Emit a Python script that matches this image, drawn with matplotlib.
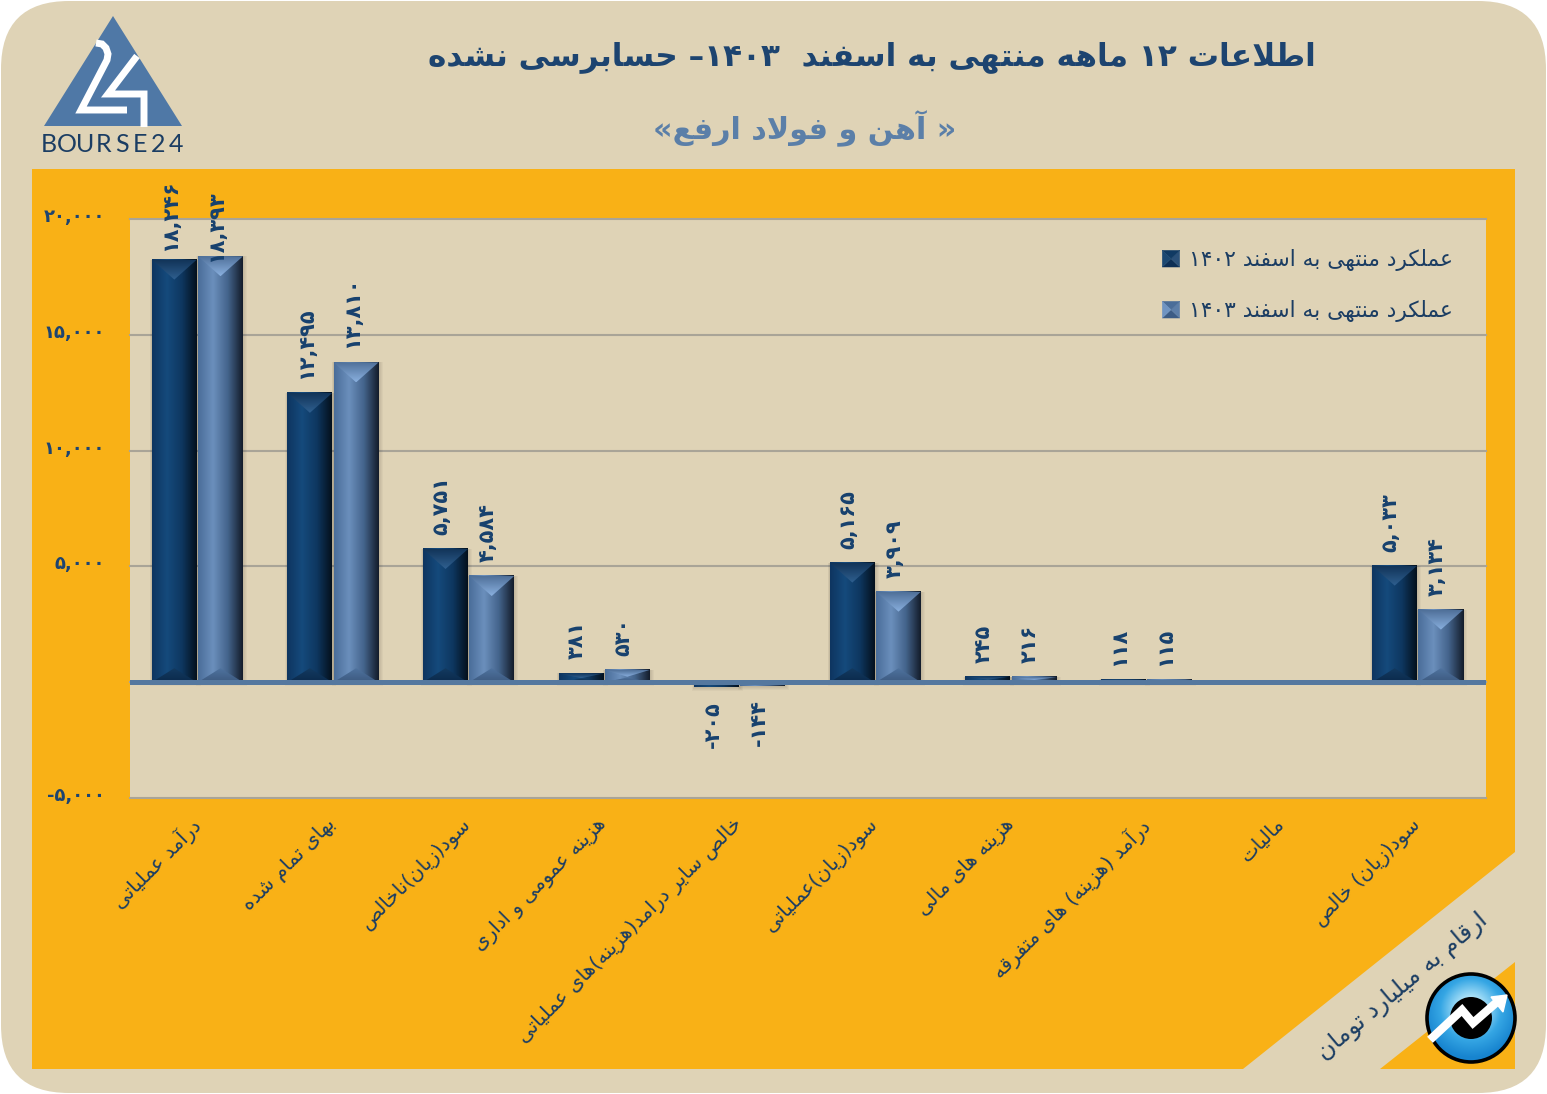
import numpy as np
import matplotlib
matplotlib.use("Agg")
from matplotlib import pyplot as plt
from matplotlib.colors import LinearSegmentedColormap
from matplotlib.legend_handler import HandlerBase
from matplotlib.patches import Circle, FancyBboxPatch, Patch, Polygon, Rectangle
from matplotlib.ticker import FuncFormatter, MultipleLocator
from matplotlib.transforms import ScaledTranslation

title = "اطلاعات ۱۲ ماهه منتهی به اسفند  ۱۴۰۳– حسابرسی نشده"
subtitle = "« آهن و فولاد ارفع»"
unit_note = "ارقام به میلیارد تومان"
categories = [
    "درآمد عملیاتی",
    "بهای تمام شده",
    "سود(زیان)ناخالص",
    "هزینه عمومی و اداری",
    "خالص سایر درامد(هزینه)های عملیاتی",
    "سود(زیان)عملیاتی",
    "هزینه های مالی",
    "درآمد (هزینه) های متفرقه",
    "مالیات",
    "سود(زیان) خالص",
]
series_1402 = [18246, 12495, 5751, 381, -205, 5165, 245, 118, 0, 5033]
series_1403 = [18393, 13810, 4584, 530, -144, 3909, 216, 115, 0, 3134]
name_1402 = "عملکرد منتهی به اسفند ۱۴۰۲"
name_1403 = "عملکرد منتهی به اسفند ۱۴۰۳"

W, H = 1547, 1094
TAN = "#dfd3b6"
ORANGE = "#f9b116"
NAVY = "#1b3d63"
STEEL = "#4f78a6"

# matplotlib does no arabic shaping, so pick the presentation forms by hand
FOUR = {"ب": 0xFE8F, "ت": 0xFE95, "ث": 0xFE99, "ج": 0xFE9D, "ح": 0xFEA1, "خ": 0xFEA5, "س": 0xFEB1,
        "ش": 0xFEB5, "ص": 0xFEB9, "ض": 0xFEBD, "ط": 0xFEC1, "ظ": 0xFEC5, "ع": 0xFEC9, "غ": 0xFECD,
        "ف": 0xFED1, "ق": 0xFED5, "ل": 0xFEDD, "م": 0xFEE1, "ن": 0xFEE5, "ه": 0xFEE9,
        "پ": 0xFB56, "چ": 0xFB7A, "ک": 0xFB8E, "گ": 0xFB92, "ی": 0xFBFC}
TWO = {"ا": 0xFE8D, "آ": 0xFE81, "د": 0xFEA9, "ذ": 0xFEAB, "ر": 0xFEAD, "ز": 0xFEAF, "و": 0xFEED, "ژ": 0xFB8A}
MIRROR = {"(": ")", ")": "(", "«": "»", "»": "«"}
FA_DIGITS = "۰۱۲۳۴۵۶۷۸۹"


def rtl(text):
    out = []
    i = 0
    prev_joins = False
    while i < len(text):
        c = text[i]
        nxt = text[i + 1] if i + 1 < len(text) else ""
        if c == "ل" and nxt in ("ا", "آ") and nxt:
            base = 0xFEFB if nxt == "ا" else 0xFEF5
            out.append(chr(base + (1 if prev_joins else 0)))
            prev_joins = False
            i += 2
            continue
        if c in FOUR:
            joins_next = nxt in FOUR or nxt in TWO
            form = (1 if prev_joins else 0) if not joins_next else (3 if prev_joins else 2)
            out.append(chr(FOUR[c] + form))
            prev_joins = joins_next
        elif c in TWO:
            out.append(chr(TWO[c] + (1 if prev_joins else 0)))
            prev_joins = False
        else:
            out.append(MIRROR.get(c, c))
            prev_joins = False
        i += 1
    # reverse for display, number runs stay in reading order
    runs = []
    for ch in out:
        if ch in FA_DIGITS and runs and runs[-1][-1] in FA_DIGITS:
            runs[-1] += ch
        else:
            runs.append(ch)
    return "".join(reversed(runs))


def fa_num(v):
    s = format(int(v), ",")
    for d, f in zip("0123456789", FA_DIGITS):
        s = s.replace(d, f)
    return s


def vgrad(ax, x0, x1, y0, y1, colors, clip=None, horizontal=True, z=3):
    cmap = LinearSegmentedColormap.from_list("g", colors)
    g = np.linspace(0, 1, 128)
    g = g[None, :] if horizontal else g[:, None]
    im = ax.imshow(g, cmap=cmap, extent=[x0, x1, y0, y1], origin="lower", aspect="auto",
                   interpolation="bilinear", zorder=z)
    if clip is not None:
        ax.add_patch(clip)
        im.set_clip_path(clip)
    return im


class Swatch(HandlerBase):
    def __init__(self, colors):
        super().__init__()
        self.colors = colors

    def create_artists(self, legend, orig_handle, xdescent, ydescent, width, height, fontsize, trans):
        x0, y0, x1, y1 = -xdescent, -ydescent, width - xdescent, height - ydescent
        c = ((x0 + x1) / 2, (y0 + y1) / 2)
        corners = [(x0, y0), (x1, y0), (x1, y1), (x0, y1)]
        arts = []
        for i, col in enumerate(self.colors):
            arts.append(Polygon([corners[i], corners[(i + 1) % 4], c], closed=True, fc=col, ec=col, lw=0.3, transform=trans))
        return arts


fig = plt.figure(figsize=(W / 100, H / 100), dpi=100, facecolor="white")
plt.rcParams["font.family"] = ["DejaVu Sans"]

# page in pixel coordinates
bg = fig.add_axes([0, 0, 1, 1], zorder=0)
bg.set_xlim(0, W)
bg.set_ylim(H, 0)
bg.axis("off")
bg.add_patch(FancyBboxPatch((1, 1), W - 2, H - 2, boxstyle="round,pad=0,rounding_size=68", fc=TAN, ec="none"))
bg.add_patch(Rectangle((32, 169), 1483, 900, fc=ORANGE, ec="none"))
bg.add_patch(Polygon([(1243, 1069), (1515, 852), (1515, 962), (1380, 1069)], fc=TAN, ec="none"))

bg.text(872, 57, rtl(title), ha="center", va="center", fontsize=22.4, fontweight="bold", color="#1d4470")
bg.text(805, 129, rtl(subtitle), ha="center", va="center", fontsize=21.8, fontweight="bold", color="#5b7fa8")
bg.text(1403, 987, rtl(unit_note), ha="center", va="center", rotation=40, rotation_mode="anchor",
        fontsize=17.2, color=NAVY)

# bourse24 logo
bg.add_patch(Polygon([(113, 16), (44, 126), (182, 126)], fc=STEEL, ec="none"))
bg.plot([96, 102, 106, 108, 107, 81, 127], [43, 44, 48, 54, 60, 110, 110], color="white", lw=5,
        solid_joinstyle="miter", solid_capstyle="butt")
bg.plot([137, 108, 144, 144], [56, 94, 94, 127], color="white", lw=5, solid_joinstyle="miter", solid_capstyle="butt")
for ch, lx in zip("BOURSE24", np.linspace(49, 176, 8)):
    bg.text(lx, 145, ch, ha="center", va="center", fontsize=18, family="Lato", color=NAVY)

# round badge
cx, cy, r = 1471, 1018, 44
badge = Circle((cx, cy), r, fc="none", ec="none")
bg.add_patch(badge)
yy, xx = np.mgrid[-1:1:200j, -1:1:200j]
rad = np.hypot(xx, yy + 0.2)
cmap = LinearSegmentedColormap.from_list("b", ["#a8e0f8", "#35a6e4", "#1784cf"])
im = bg.imshow(rad, cmap=cmap, extent=[cx - r, cx + r, cy + r, cy - r], aspect="auto", zorder=2, vmin=0.3, vmax=1.1)
im.set_clip_path(badge)
bg.set_xlim(0, W)
bg.set_ylim(H, 0)
bg.add_patch(Circle((cx, cy), r, fc="none", ec="black", lw=2.6, zorder=3))
bg.add_patch(Circle((cx, cy), 21, fc="black", ec="none", zorder=3))
bg.plot([1433, 1462, 1473, 1497], [1037, 1010, 1023, 1002], color="white", lw=6, zorder=4, solid_joinstyle="miter")
bg.add_patch(Polygon([(1507, 995), (1491, 997), (1503, 1012)], fc="white", ec="white", zorder=4))

# chart
ax = fig.add_axes([130 / W, 1 - 798 / H, (1486 - 130) / W, (798 - 219) / H], zorder=1)
ax.set_facecolor(TAN)
for s in ax.spines.values():
    s.set_visible(False)
x = np.arange(len(categories))
ax.set_xlim(-0.5, len(categories) - 0.5)
ax.set_ylim(-5000, 20000)
ax.yaxis.set_major_locator(MultipleLocator(5000))
ax.yaxis.set_major_formatter(FuncFormatter(lambda v, _: fa_num(v) if v != 0 else ""))
ax.grid(axis="y", color="#a9a497", lw=1.5, zorder=1)
ax.set_axisbelow(True)
for gl in ax.get_ygridlines():
    gl.set_clip_on(False)
ax.tick_params(axis="both", length=0)
ax.tick_params(axis="y", pad=18, labelsize=13, labelcolor="#1d4470")
for lbl in ax.get_yticklabels():
    lbl.set_fontweight("bold")
ax.set_xticks(x, [rtl(c) for c in categories], rotation=45, ha="right", va="top", rotation_mode="anchor",
              fontsize=14.3, color=NAVY)
ax.tick_params(axis="x", pad=12)

px_x = (len(categories)) / (1486 - 130)
px_y = 25000 / (798 - 219)
bar_w = 45 * px_x

styles = [
    ("1402", series_1402, -23.5, ["#0e3560", "#154a7c", "#0e3760", "#04101c"], ["#123459", "#2f6090"], ["#0b2a4c", "#133a60"]),
    ("1403", series_1403, 22.7, ["#4a6d99", "#6b8fbc", "#44648c", "#131c2a"], ["#4f7099", "#8ab0df"], ["#3d5a80", "#4f739f"]),
]
label_nudge = {("1402", 0): -4, ("1403", 0): -14}

for name, values, off, body, top, bottom in styles:
    bars = ax.bar(x + off * px_x, values, bar_w, color=body[1], zorder=3)
    for i, (bar, v) in enumerate(zip(bars, values)):
        if v == 0:
            continue
        l, w = bar.get_x(), bar.get_width()
        lo, hi = min(0, v), max(0, v)
        # soft shadow
        for k in range(1, 5):
            ax.add_patch(Rectangle((l - 0.5 * k * px_x, lo - k * px_y), w + 1.5 * k * px_x, hi - lo + k * px_y,
                                   fc="black", ec="none", alpha=0.03, zorder=2))
        vgrad(ax, l, l + w, lo, hi, body, z=3)
        if v > 0:
            depth = min(20 * px_y, (hi - lo) * 0.55)
            mid = l + w / 2
            tri = Polygon([(l, hi), (l + w, hi), (mid, hi - depth)], closed=True, fc="none", ec="none")
            vgrad(ax, l, l + w, hi - depth, hi, top[::-1], clip=tri, horizontal=False, z=4)
            tri2 = Polygon([(l, lo), (l + w, lo), (mid, lo + depth * 0.7)], closed=True, fc="none", ec="none")
            vgrad(ax, l, l + w, lo, lo + depth * 0.7, bottom, clip=tri2, horizontal=False, z=4)
        label_y = -10 if v < 0 else 10 + label_nudge.get((name, i), 0)
        ax.annotate(fa_num(v), (bar.get_x() + w / 2, v), xytext=(-3, label_y), textcoords="offset points",
                    rotation=90, ha="center", va="top" if v < 0 else "bottom", fontsize=15, fontweight="bold",
                    color="#17416e", zorder=6)

ax.axhline(0, color="#55789f", lw=3.6, zorder=5)

handles = [Patch(label=rtl(name_1402)), Patch(label=rtl(name_1403))]
handler_map = {
    handles[0]: Swatch(["#0d2f55", "#2a5078", "#103a63", "#1b4872"]),
    handles[1]: Swatch(["#3c5c85", "#5c7ea8", "#4a6d99", "#6f94c2"]),
}
ax.legend(handles=handles, handler_map=handler_map, loc="upper left", bbox_to_anchor=(1147 / W, 1 - 234 / H),
          bbox_transform=fig.transFigure, frameon=False, fontsize=15.7, labelcolor=NAVY, handlelength=0.8,
          handleheight=0.8, handletextpad=0.42, labelspacing=1.33, borderpad=0.2)

# tick labels sit a little off their ticks in the original
for tick in ax.yaxis.get_major_ticks():
    tick.label1.set_transform(tick.label1.get_transform() + ScaledTranslation(0, 4 / 100, fig.dpi_scale_trans))
for tick in ax.xaxis.get_major_ticks():
    tick.label1.set_transform(tick.label1.get_transform() + ScaledTranslation(-8 / 100, 0, fig.dpi_scale_trans))

fig.savefig("out.png", dpi=100, facecolor="white")
